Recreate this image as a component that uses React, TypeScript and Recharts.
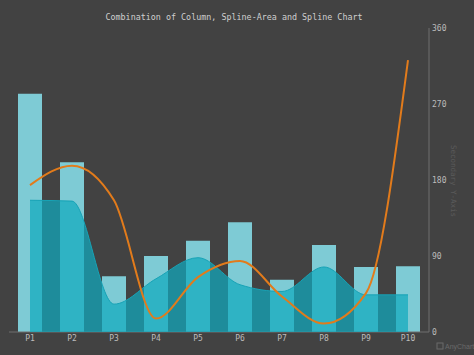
import React from 'react';
import { ComposedChart, Bar, Area, Line, XAxis, YAxis } from 'recharts';

const categories = ['P1', 'P2', 'P3', 'P4', 'P5', 'P6', 'P7', 'P8', 'P9', 'P10'];
const columnValues = [282, 201, 66, 90, 108, 130, 62, 103, 77, 78];
const splineAreaValues = [156, 155, 33, 63, 88, 56, 48, 77, 44, 44];
const splineValues = [174, 197, 156, 16, 65, 84, 42, 10, 46, 322];
const yTicks = [0, 90, 180, 270, 360];

const data = categories.map((name, i) => ({
  name,
  column: columnValues[i],
  area: splineAreaValues[i],
  line: splineValues[i],
}));

const MONO = '"DejaVu Sans Mono", "Liberation Mono", monospace';

export default function App() {
  return (
    <div style={{ position: 'fixed', left: 0, top: 0, width: 474, height: 355, background: '#424242' }}>
      <ComposedChart width={474} height={355} data={data} margin={{ top: 28, right: 0, bottom: 0, left: 9 }}>
        <XAxis
          dataKey="name"
          height={23}
          axisLine={{ stroke: '#6e6e6e' }}
          tickLine={false}
          tickSize={0}
          tickMargin={3}
          interval={0}
          tick={{ fill: '#bcbcbc', fontSize: 8, fontFamily: MONO }}
        />
        <YAxis
          yAxisId="r"
          orientation="right"
          width={45}
          domain={[0, 360]}
          ticks={yTicks}
          interval={0}
          axisLine={{ stroke: '#6e6e6e' }}
          tickLine={false}
          tickSize={0}
          tickMargin={3}
          tick={{ fill: '#bcbcbc', fontSize: 8, fontFamily: MONO }}
        />
        <Bar yAxisId="r" dataKey="column" barSize={24} fill="#7ecbd5" isAnimationActive={false} />
      </ComposedChart>
      <div style={{ position: 'absolute', left: 0, top: 0 }}>
        <ComposedChart width={474} height={355} data={data} margin={{ top: 28, right: 45, bottom: 23, left: 9 }}>
          <XAxis dataKey="name" hide scale="band" />
          <YAxis yAxisId="r" hide domain={[0, 360]} />
          <Area
            yAxisId="r"
            type="monotone"
            dataKey="area"
            fill="#10a9be"
            fillOpacity={0.72}
            stroke="#17a3b6"
            strokeWidth={1}
            isAnimationActive={false}
          />
          <Line
            yAxisId="r"
            type="monotone"
            dataKey="line"
            stroke="#e27b1b"
            strokeWidth={2}
            dot={false}
            isAnimationActive={false}
          />
        </ComposedChart>
      </div>
      <svg width={474} height={355} style={{ position: 'absolute', left: 0, top: 0, pointerEvents: 'none' }}>
        <text x={234} y={20} textAnchor="middle" fill="#cfcfcf" fontSize={8.4} fontFamily={MONO}>
          Combination of Column, Spline-Area and Spline Chart
        </text>
        <text
          x={453}
          y={181}
          textAnchor="middle"
          fill="#5a5a5a"
          fontSize={7.5}
          fontFamily={MONO}
          transform="rotate(90 453 181)"
          dominantBaseline="central"
        >
          Secondary Y-Axis
        </text>
        <rect x={437} y={343} width={6} height={6} fill="none" stroke="#6a6a6a" strokeWidth={1} />
        <text x={445} y={349} fill="#6a6a6a" fontSize={7} fontFamily='"Liberation Sans", Arial, sans-serif'>
          AnyChart
        </text>
      </svg>
    </div>
  );
}
